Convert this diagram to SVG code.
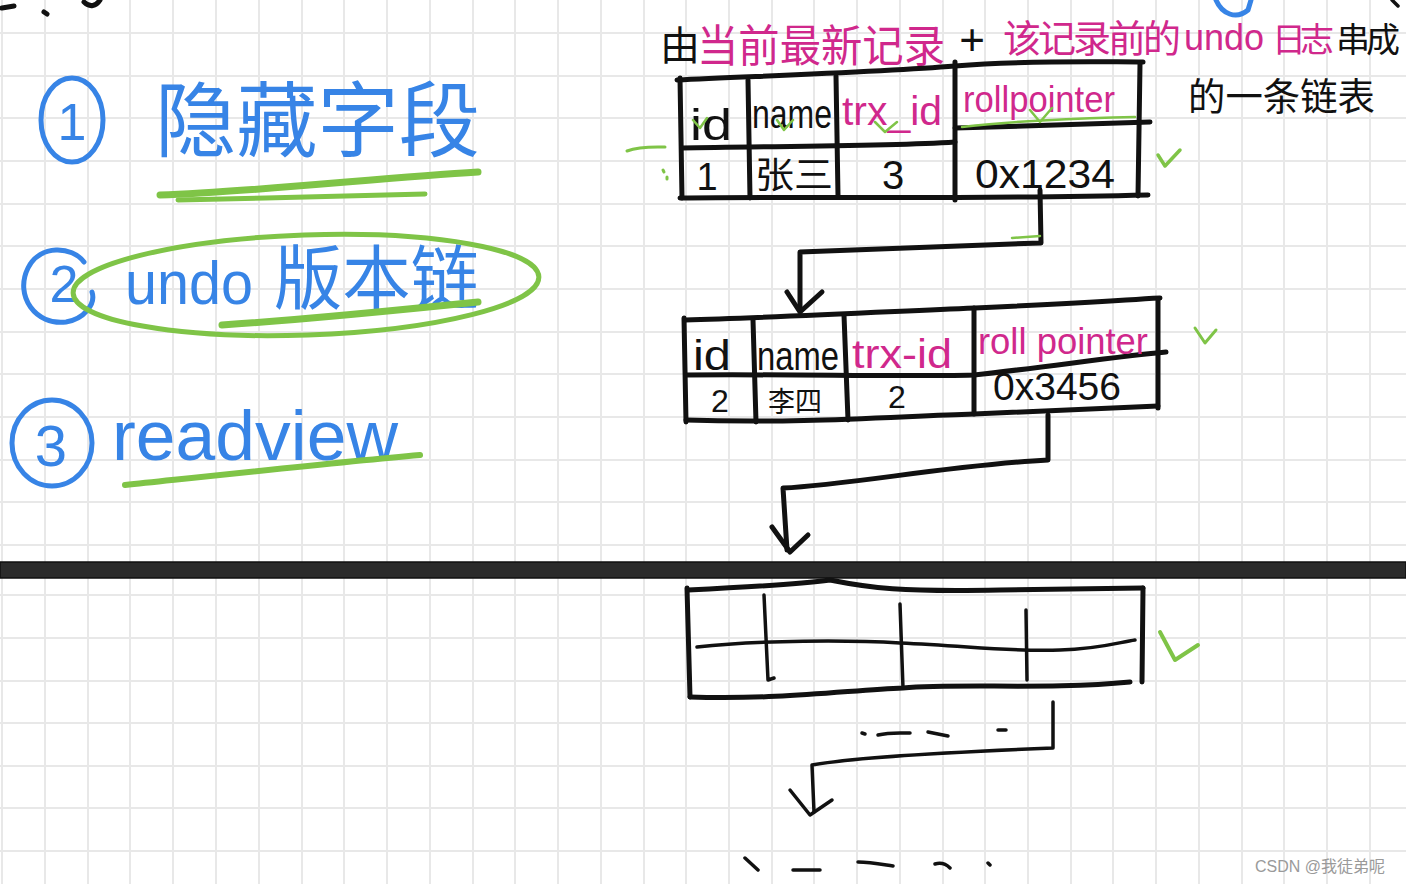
<svg xmlns="http://www.w3.org/2000/svg" width="1406" height="884" viewBox="0 0 1406 884">
<defs>
<style>
.grid{stroke:#e8e8e8;stroke-width:2;fill:none}
.ink{stroke:#111;stroke-width:5;fill:none;stroke-linecap:round;stroke-linejoin:round}
.thin{stroke:#111;stroke-width:3.5;fill:none;stroke-linecap:round;stroke-linejoin:round}
.grn{stroke:#7fc447;fill:none;stroke-linecap:round;stroke-linejoin:round}
.blu{stroke:#3784e6;fill:none;stroke-width:5;stroke-linecap:round;stroke-linejoin:round}
.tb{fill:#3784e6;font-family:"Noto Sans CJK SC","Noto Sans",sans-serif}
.tl{fill:#3784e6;font-family:"Liberation Sans",sans-serif}
.tk{fill:#111;font-family:"Liberation Sans","Noto Sans CJK SC",sans-serif}
.tkc{fill:#111;font-family:"Noto Sans CJK SC",sans-serif}
.tm{fill:#d0288c;font-family:"Liberation Sans","Noto Sans CJK SC",sans-serif}
.tmc{fill:#d0288c;font-family:"Noto Sans CJK SC",sans-serif}
</style>
</defs>
<rect width="1406" height="884" fill="#ffffff"/>
<g id="grid">
<path class="grid" d="M2,0V884M45,0V884M88,0V884M130,0V884M173,0V884M216,0V884M259,0V884M302,0V884M344,0V884M387,0V884M430,0V884M473,0V884M515,0V884M558,0V884M601,0V884M644,0V884M686,0V884M729,0V884M772,0V884M814,0V884M857,0V884M900,0V884M943,0V884M985,0V884M1028,0V884M1071,0V884M1113,0V884M1156,0V884M1199,0V884M1242,0V884M1284,0V884M1327,0V884M1370,0V884"/>
<path class="grid" d="M0,33H1406M0,76H1406M0,118H1406M0,161H1406M0,204H1406M0,246H1406M0,289H1406M0,332H1406M0,374H1406M0,417H1406M0,460H1406M0,502H1406M0,545H1406M0,595H1406M0,638H1406M0,681H1406M0,723H1406M0,766H1406M0,808H1406M0,851H1406"/>
</g>
<rect id="divider" x="0" y="562" width="1406" height="16" fill="#2b2b2b" stroke="#111" stroke-width="1.5"/>

<g id="scribbles">
<path class="ink" d="M2,8 L14,6 M44,12 L47,14 M84,2 C 90,8 96,6 100,0"/>
<path class="blu" d="M1216,0 C 1222,14 1236,20 1248,10 L 1251,0"/>
<path class="thin" d="M1392,0 L1398,6"/>
</g>

<g id="item1">
<ellipse class="blu" cx="72" cy="120" rx="31" ry="42"/>
<text class="tl" x="72" y="140" font-size="52" text-anchor="middle">1</text>
<text class="tb" x="155" y="150" font-size="82" textLength="325" lengthAdjust="spacingAndGlyphs">隐藏字段</text>
<path class="grn" stroke-width="7" d="M160,195 C 250,192 380,178 478,172"/>
<path class="grn" stroke-width="5" d="M178,200 C 260,198 360,196 425,194"/>
</g>

<g id="item2">
<path class="blu" d="M84,262 C 72,246 40,244 28,268 C 14,296 36,326 66,322 C 84,319 96,304 92,292"/>
<text class="tl" x="64" y="302" font-size="52" text-anchor="middle">2</text>
<text class="tl" x="125" y="304" font-size="62" textLength="128" lengthAdjust="spacingAndGlyphs">undo</text>
<text class="tb" x="274" y="304" font-size="70" textLength="205" lengthAdjust="spacingAndGlyphs">版本链</text>
<ellipse class="grn" stroke-width="5" cx="306" cy="285" rx="233" ry="50" transform="rotate(-2 306 285)"/>
<path class="grn" stroke-width="7" d="M222,325 C 300,320 400,310 478,302"/>
</g>

<g id="item3">
<ellipse class="blu" cx="52" cy="443" rx="40" ry="43"/>
<text class="tl" x="51" y="466" font-size="58" text-anchor="middle">3</text>
<text class="tl" x="112" y="460" font-size="70" textLength="286" lengthAdjust="spacingAndGlyphs">readview</text>
<path class="grn" stroke-width="6" d="M125,485 C 220,475 340,462 420,455"/>
</g>

<g id="caption">
<text class="tkc" x="660" y="60" font-size="40">由</text>
<text class="tmc" x="697" y="62" font-size="44" textLength="248" lengthAdjust="spacingAndGlyphs">当前最新记录</text>
<text class="tk" x="972" y="55" font-size="44" text-anchor="middle">+</text>
<text class="tmc" x="1003 1038 1073 1108 1143" y="52" font-size="38">该记录前的</text>
<text class="tm" x="1184" y="50" font-size="36">undo</text>
<text class="tmc" x="1272 1300" y="52" font-size="34">日志</text>
<text class="tkc" x="1336 1366" y="52" font-size="34">串成</text>
<text class="tkc" x="1188" y="110" font-size="38" textLength="187" lengthAdjust="spacingAndGlyphs">的一条链表</text>
</g>

<g id="record1">
<path class="ink" d="M677,80 C 760,76 880,72 955,66 S 1100,62 1143,62"/>
<path class="ink" d="M680,78 L682,198 M748,80 L750,198 M836,76 L838,196 M955,62 L955,200 M1140,64 L1138,196"/>
<path class="ink" d="M682,148 C 760,146 880,147 955,142 M955,128 C 1020,126 1100,124 1150,122"/>
<path class="ink" d="M680,198 C 800,196 950,200 1148,195"/>
<text class="tk" x="690" y="140" font-size="44" textLength="42" lengthAdjust="spacingAndGlyphs">id</text>
<text class="tk" x="752" y="128" font-size="40" textLength="80" lengthAdjust="spacingAndGlyphs">name</text>
<text class="tm" x="842" y="125" font-size="40" textLength="100" lengthAdjust="spacingAndGlyphs">trx_id</text>
<text class="tm" x="963" y="112" font-size="36" textLength="152" lengthAdjust="spacingAndGlyphs">rollpointer</text>
<text class="tk" x="707" y="190" font-size="38" text-anchor="middle">1</text>
<text class="tkc" x="755" y="188" font-size="36" textLength="78" lengthAdjust="spacingAndGlyphs">张三</text>
<text class="tk" x="893" y="189" font-size="40" text-anchor="middle">3</text>
<text class="tk" x="975" y="188" font-size="40" textLength="140" lengthAdjust="spacingAndGlyphs">0x1234</text>
<path class="grn" stroke-width="2.5" d="M962,127 C 1000,122 1080,118 1135,117"/>
<path class="grn" stroke-width="2.5" d="M693,120 L700,128 L707,118 M777,120 L784,130 L793,120 M875,122 L885,132 L897,122 M1030,110 L1040,122 L1052,108"/>
<path class="grn" stroke-width="3" d="M627,151 C 640,146 655,147 665,147 M663,170 L664,172 M667,177 L667,179"/>
<path class="grn" stroke-width="3.5" d="M1158,155 L1165,166 L1180,150"/>
</g>

<g id="record2">
<path class="ink" d="M685,320 C 760,318 840,314 975,308 S 1120,300 1160,298"/>
<path class="ink" d="M684,318 L686,422 M753,320 L756,422 M844,315 L848,420 M974,308 L974,414 M1158,300 L1158,408"/>
<path class="ink" d="M686,375 C 800,374 900,377 974,375 C 1040,368 1120,356 1166,352"/>
<path class="ink" d="M686,420 C 800,424 900,416 974,414 L1158,406"/>
<text class="tk" x="693" y="370" font-size="42" textLength="38" lengthAdjust="spacingAndGlyphs">id</text>
<text class="tk" x="757" y="370" font-size="40" textLength="82" lengthAdjust="spacingAndGlyphs">name</text>
<text class="tm" x="852" y="368" font-size="40" textLength="100" lengthAdjust="spacingAndGlyphs">trx-id</text>
<text class="tm" x="978" y="354" font-size="36" textLength="170" lengthAdjust="spacingAndGlyphs">roll pointer</text>
<text class="tk" x="720" y="412" font-size="32" text-anchor="middle">2</text>
<text class="tkc" x="768" y="412" font-size="28" textLength="54" lengthAdjust="spacingAndGlyphs">李四</text>
<text class="tk" x="897" y="408" font-size="32" text-anchor="middle">2</text>
<text class="tk" x="993" y="400" font-size="38" textLength="128" lengthAdjust="spacingAndGlyphs">0x3456</text>
<path class="grn" stroke-width="3" d="M1195,328 L1205,343 L1216,330"/>
</g>

<g id="record3">
<path class="ink" d="M688,590 C 730,588 800,584 830,580 C 870,588 900,592 1000,590 L1143,588"/>
<path class="ink" d="M687,588 L690,697 M1143,588 L1142,682"/>
<path class="thin" d="M764,595 L768,680 L774,678 M900,604 L903,688 M1026,610 L1027,680"/>
<path class="thin" d="M697,647 C 760,640 850,640 900,643 C 970,646 1010,652 1060,650 C 1100,649 1120,642 1135,640"/>
<path class="ink" d="M690,697 C 780,700 850,690 903,688 C 960,683 1050,690 1130,682"/>
<path class="grn" stroke-width="4" d="M1160,632 L1175,660 L1198,645"/>
</g>

<g id="connectors">
<path class="ink" d="M1040,190 L1041,243 C 950,246 850,250 800,252 L800,310"/>
<path class="ink" d="M787,292 L800,312 L822,292"/>
<path class="grn" stroke-width="2.5" d="M1012,238 L1040,236"/>
<path class="ink" d="M1048,415 L1048,460 C 950,465 850,485 783,488 L787,550"/>
<path class="ink" d="M772,527 L790,552 L808,535"/>
<path class="thin" d="M1053,702 L1053,748 C 950,752 850,758 812,765 L814,812"/>
<path class="thin" d="M790,790 L810,815 L832,800"/>
<path class="thin" d="M862,733 L865,734 M878,735 C 890,732 900,733 910,733 M928,732 L948,736 M998,730 L1006,730"/>
<path class="thin" d="M745,858 L758,870 M793,870 L820,870 M858,862 C 870,862 880,864 893,866 M935,864 C 942,862 946,864 950,868 M988,863 L990,865"/>
</g>

<text id="watermark" x="1255" y="872" font-size="16" fill="#9a9a9a" font-family="'Liberation Sans','Noto Sans CJK SC',sans-serif">CSDN @我徒弟呢</text>
</svg>
